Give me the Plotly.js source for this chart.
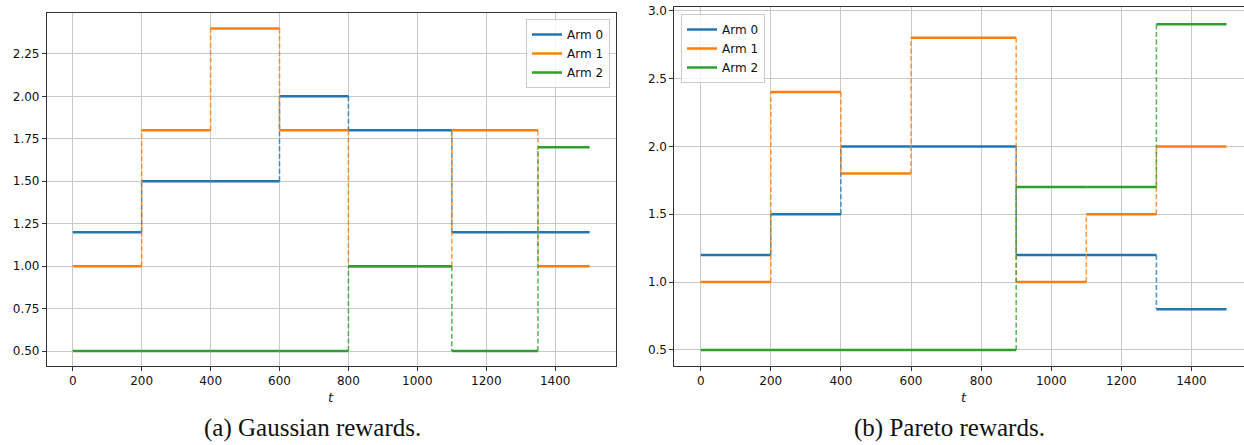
<!DOCTYPE html>
<html>
<head>
<meta charset="utf-8">
<script src="https://cdn.plot.ly/plotly-3.0.1.min.js"></script>
<style>
  html, body { margin: 0; padding: 0; overflow: hidden; background: #fff; }
  #chart { width: 1260px; height: 445px; }
</style>
</head>
<body>
<div id="chart"></div>
<script>
// ---- Data ----
const armNames = ["Arm 0", "Arm 1", "Arm 2"];
const armColors = ["#1f77b4", "#ff7f0e", "#2ca02c"];

// (a) Gaussian rewards: change points and piecewise-constant means
const gaussBreaks = [0, 200, 400, 600, 800, 1100, 1350, 1500];
const gaussArm0 = [1.2, 1.5, 1.5, 2.0, 1.8, 1.2, 1.2];
const gaussArm1 = [1.0, 1.8, 2.4, 1.8, 1.0, 1.8, 1.0];
const gaussArm2 = [0.5, 0.5, 0.5, 0.5, 1.0, 0.5, 1.7];

// (b) Pareto rewards
const paretoBreaks = [0, 200, 400, 600, 900, 1100, 1300, 1500];
const paretoArm0 = [1.2, 1.5, 2.0, 2.0, 1.2, 1.2, 0.8];
const paretoArm1 = [1.0, 2.4, 1.8, 2.8, 1.0, 1.5, 2.0];
const paretoArm2 = [0.5, 0.5, 0.5, 0.5, 1.7, 1.7, 2.9];

const captions = ["(a) Gaussian rewards.", "(b) Pareto rewards."];
const xTitle = "t";

// ---- Build traces ----
function stepTraces(breaks, vals, idx, xa, ya, legendId) {
  const hx = [], hy = [], vx = [], vy = [];
  for (let i = 0; i < vals.length; i++) {
    hx.push(breaks[i], breaks[i + 1], null);
    hy.push(vals[i], vals[i], null);
    if (i + 1 < vals.length && vals[i + 1] !== vals[i]) {
      vx.push(breaks[i + 1], breaks[i + 1], null);
      vy.push(vals[i], vals[i + 1], null);
    }
  }
  return [
    {
      x: hx, y: hy, xaxis: xa, yaxis: ya, mode: "lines", name: armNames[idx],
      line: { color: armColors[idx], width: 2.5 }, legend: legendId,
      connectgaps: false, hoverinfo: "skip"
    },
    {
      x: vx, y: vy, xaxis: xa, yaxis: ya, mode: "lines", showlegend: false,
      line: { color: armColors[idx], width: 1.5, dash: "5px,2.5px" }, opacity: 0.8,
      connectgaps: false, hoverinfo: "skip"
    }
  ];
}

const gaussArms = [gaussArm0, gaussArm1, gaussArm2];
const paretoArms = [paretoArm0, paretoArm1, paretoArm2];
let traces = [];
gaussArms.forEach((a, i) => { traces = traces.concat(stepTraces(gaussBreaks, a, i, "x", "y", "legend")); });
paretoArms.forEach((a, i) => { traces = traces.concat(stepTraces(paretoBreaks, a, i, "x2", "y2", "legend2")); });

// ---- Layout ----
const W = 1260, H = 445;
const px = v => v / W;
const py = v => 1 - v / H;
const tickFont = { family: "DejaVu Sans, sans-serif", size: 12, color: "#111" };
const axisCommon = {
  showline: true, linecolor: "#333", linewidth: 1, mirror: true,
  ticks: "outside", ticklen: 4, tickwidth: 1, tickcolor: "#333",
  showgrid: true, gridcolor: "#c8c8c8", gridwidth: 1,
  zeroline: false, automargin: false, tickfont: tickFont, fixedrange: true
};

const layout = {
  width: W, height: H,
  margin: { l: 0, r: 0, t: 0, b: 0 },
  paper_bgcolor: "#fff", plot_bgcolor: "#fff",
  xaxis: Object.assign({}, axisCommon, {
    domain: [px(46.9), px(615.5)], range: [-75, 1575], anchor: "y",
    tick0: 0, dtick: 200
  }),
  yaxis: Object.assign({}, axisCommon, {
    domain: [py(366), py(13)], range: [0.412, 2.491], anchor: "x",
    tick0: 0, dtick: 0.25, tickformat: ".2f"
  }),
  xaxis2: Object.assign({}, axisCommon, {
    domain: [px(674.4), px(1252.8)], range: [-75, 1575], anchor: "y2",
    tick0: 0, dtick: 200
  }),
  yaxis2: Object.assign({}, axisCommon, {
    domain: [py(365.7), py(7.3)], range: [0.384, 3.025], anchor: "x2",
    tick0: 0, dtick: 0.5, tickformat: ".1f"
  }),
  legend: {
    x: px(610), y: py(19), xanchor: "right", yanchor: "top",
    bgcolor: "rgba(255,255,255,0.8)", bordercolor: "#cccccc", borderwidth: 1,
    font: { family: "DejaVu Sans, sans-serif", size: 12, color: "#111" }
  },
  legend2: {
    x: px(681), y: py(14), xanchor: "left", yanchor: "top",
    bgcolor: "rgba(255,255,255,0.8)", bordercolor: "#cccccc", borderwidth: 1,
    font: { family: "DejaVu Sans, sans-serif", size: 12, color: "#111" }
  },
  annotations: [
    { text: "<i>" + xTitle + "</i>", xref: "paper", yref: "paper", x: px(331.2), y: py(397),
      xanchor: "center", yanchor: "middle", showarrow: false,
      font: { family: "DejaVu Sans, sans-serif", size: 13, color: "#111" } },
    { text: "<i>" + xTitle + "</i>", xref: "paper", yref: "paper", x: px(963.6), y: py(397),
      xanchor: "center", yanchor: "middle", showarrow: false,
      font: { family: "DejaVu Sans, sans-serif", size: 13, color: "#111" } },
    { text: captions[0], xref: "paper", yref: "paper", x: px(312.5), y: py(428),
      xanchor: "center", yanchor: "middle", showarrow: false,
      font: { family: "Liberation Serif, serif", size: 25, color: "#111" } },
    { text: captions[1], xref: "paper", yref: "paper", x: px(949), y: py(428),
      xanchor: "center", yanchor: "middle", showarrow: false,
      font: { family: "Liberation Serif, serif", size: 25, color: "#111" } }
  ]
};

Plotly.newPlot("chart", traces, layout, { staticPlot: true, displayModeBar: false });
</script>
</body>
</html>
